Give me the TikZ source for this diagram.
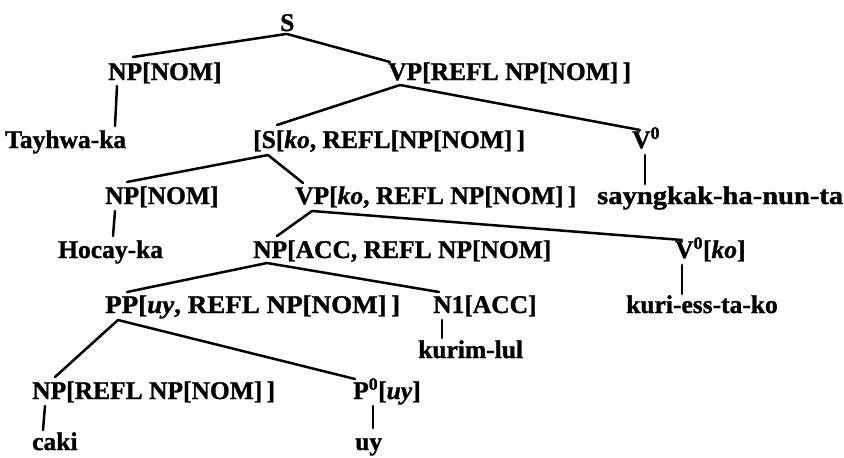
\documentclass[tikz,border=0pt]{standalone}
\usepackage{fontspec}
\setmainfont{Liberation Serif}[BoldFeatures={FakeBold=1.2},BoldItalicFeatures={FakeBold=1.2}]
\begin{document}
\begin{tikzpicture}[x=1pt,y=-1pt,
  lab/.style={anchor=base west,inner sep=0pt,font=\fontsize{25.5}{30}\selectfont\bfseries},
  edge/.style={line width=2.5pt,line cap=round}]
\useasboundingbox[fill=white] (0,0) rectangle (844,458);
% nodes
\node[lab] (S) at (280,31) {S};
\node[lab] (np1) at (108,80) {NP[NOM]};
\node[lab] (vp1) at (388,80) {VP[REFL NP[NOM]\,]};
\node[lab] (tay) at (5,148) {Tayhwa-ka};
\node[lab] (s2) at (253,148) {[S[\textit{ko}, REFL[NP[NOM]\,]};
\node[lab] (v1) at (632,148) {V\textsuperscript{0}};
\node[lab] (np2) at (105,204) {NP[NOM]};
\node[lab] (vp2) at (295,204) {VP[\textit{ko}, REFL NP[NOM]\,]};
\node[lab] (say) at (597,204) {\scalebox{1.12}[1]{sayngkak-ha-nun-ta}};
\node[lab] (hoc) at (58,258) {Hocay-ka};
\node[lab] (np3) at (253,258) {NP[ACC, REFL NP[NOM]};
\node[lab] (v2) at (675,258) {V\textsuperscript{0}[\textit{ko}]};
\node[lab] (pp) at (105,313) {\scalebox{1.06}[1]{PP[\textit{uy}, REFL NP[NOM]\,]}};
\node[lab] (n1) at (433,313) {N1[ACC]};
\node[lab] (kuri) at (626,313) {kuri-ess-ta-ko};
\node[lab] (kurim) at (418,358) {kurim-lul};
\node[lab] (nprefl) at (32,399) {NP[REFL NP[NOM]\,]};
\node[lab] (p0) at (353,399) {P\textsuperscript{0}[\textit{uy}]};
\node[lab] (caki) at (32,450) {caki};
\node[lab] (uy) at (355,450) {uy};
% edges
\draw[edge] ([shift={(6,3)}]S.base west) -- ([shift={(25,-23)}]np1.base west);
\draw[edge] ([shift={(7,3)}]S.base west) -- ([shift={(2,-18)}]vp1.base west);
\draw[edge] ([shift={(9,6)}]np1.base west) -- ([shift={(110,-22)}]tay.base west);
\draw[edge] ([shift={(12,5)}]vp1.base west) -- ([shift={(24,-23)}]s2.base west);
\draw[edge] ([shift={(12,5)}]vp1.base west) -- ([shift={(8,-18)}]v1.base west);
\draw[edge] ([shift={(13,7)}]v1.base west) -- ([shift={(48,-20)}]say.base west);
\draw[edge] ([shift={(15,7)}]s2.base west) -- ([shift={(22,-22)}]np2.base west);
\draw[edge] ([shift={(15,7)}]s2.base west) -- ([shift={(8,-21)}]vp2.base west);
\draw[edge] ([shift={(10,7)}]np2.base west) -- ([shift={(55,-22)}]hoc.base west);
\draw[edge] ([shift={(17,7)}]vp2.base west) -- ([shift={(24,-22)}]np3.base west);
\draw[edge] ([shift={(17,7)}]vp2.base west) -- ([shift={(7,-18)}]v2.base west);
\draw[edge] ([shift={(7,7)}]v2.base west) -- ([shift={(56,-19)}]kuri.base west);
\draw[edge] ([shift={(14,5)}]np3.base west) -- ([shift={(22,-21)}]pp.base west);
\draw[edge] ([shift={(14,5)}]np3.base west) -- ([shift={(6,-21)}]n1.base west);
\draw[edge] ([shift={(9,7)}]n1.base west) -- ([shift={(24,-20)}]kurim.base west);
\draw[edge] ([shift={(13,7)}]pp.base west) -- ([shift={(23,-22)}]nprefl.base west);
\draw[edge] ([shift={(13,7)}]pp.base west) -- ([shift={(2,-20)}]p0.base west);
\draw[edge] ([shift={(13,7)}]nprefl.base west) -- ([shift={(11,-20)}]caki.base west);
\draw[edge] ([shift={(20,7)}]p0.base west) -- ([shift={(18,-22)}]uy.base west);
\end{tikzpicture}
\end{document}
